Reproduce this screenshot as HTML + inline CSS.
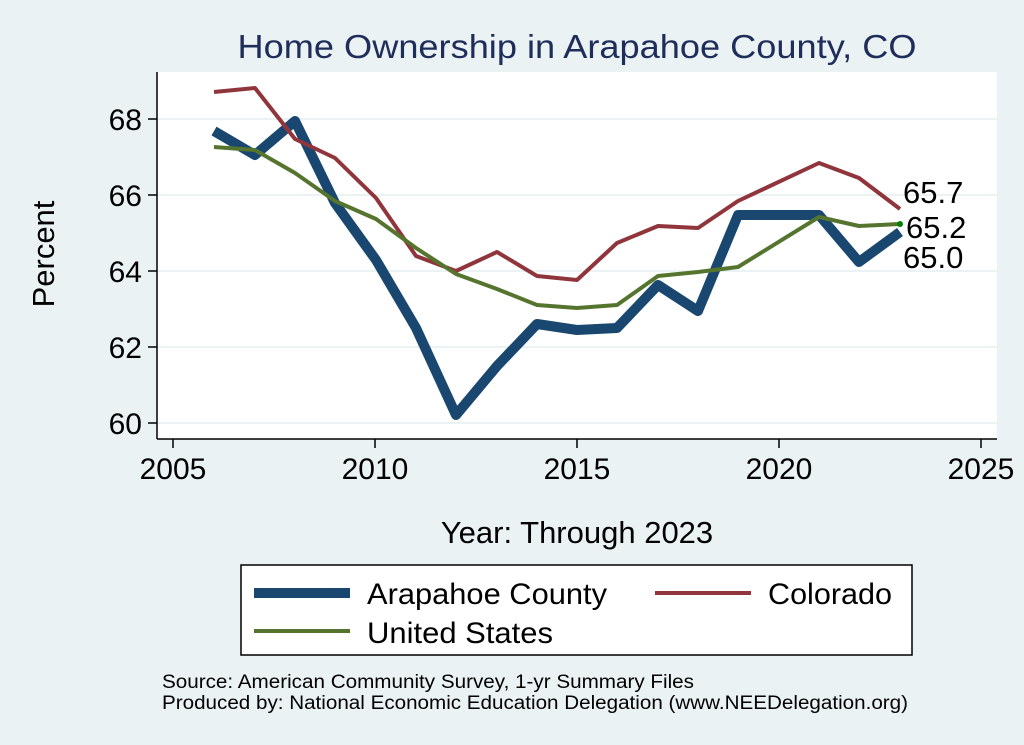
<!DOCTYPE html>
<html><head><meta charset="utf-8"><style>
body{margin:0;background:#eaf2f3;}
svg{display:block;font-family:"Liberation Sans",sans-serif;}
</style></head><body>
<svg width="1024" height="745" viewBox="0 0 1024 745" xmlns="http://www.w3.org/2000/svg">
<rect width="1024" height="745" fill="#eaf2f3"/>
<text x="577" y="58" text-anchor="middle" font-size="33" fill="#1e2d5a" textLength="679" lengthAdjust="spacingAndGlyphs">Home Ownership in Arapahoe County, CO</text>
<rect x="157" y="72" width="840" height="367" fill="#fff"/>
<g stroke="#eaf2f3" stroke-width="2">
<line x1="157" x2="997" y1="119" y2="119"/><line x1="157" x2="997" y1="195" y2="195"/>
<line x1="157" x2="997" y1="271" y2="271"/><line x1="157" x2="997" y1="347" y2="347"/>
<line x1="157" x2="997" y1="423" y2="423"/>
</g>
<g stroke="#000" stroke-width="1.5">
<line x1="157" x2="157" y1="72" y2="439"/><line x1="157" x2="997" y1="439" y2="439"/>
<line x1="148" x2="157" y1="119" y2="119"/><line x1="148" x2="157" y1="195" y2="195"/>
<line x1="148" x2="157" y1="271" y2="271"/><line x1="148" x2="157" y1="347" y2="347"/>
<line x1="148" x2="157" y1="423" y2="423"/>
<line x1="173" x2="173" y1="439" y2="448"/><line x1="375" x2="375" y1="439" y2="448"/>
<line x1="577" x2="577" y1="439" y2="448"/><line x1="779" x2="779" y1="439" y2="448"/>
<line x1="981" x2="981" y1="439" y2="448"/>
</g>
<g font-size="30" text-anchor="end">
<text x="142" y="130">68</text><text x="142" y="206">66</text><text x="142" y="282">64</text>
<text x="142" y="358">62</text><text x="142" y="434">60</text>
</g>
<g font-size="30" text-anchor="middle">
<text x="173" y="479">2005</text><text x="375" y="479">2010</text><text x="577" y="479">2015</text>
<text x="779" y="479">2020</text><text x="981" y="479">2025</text>
</g>
<text x="577" y="543" text-anchor="middle" font-size="31">Year: Through 2023</text>
<text transform="translate(54,254) rotate(-90)" text-anchor="middle" font-size="31">Percent</text>
<polyline fill="none" stroke="#1a476f" stroke-width="10" stroke-linejoin="round" points="214,131 255,155 295,121 335,203 376,260 416,328 456,415 497,366 537,324 577,330 617,328 658,285 698,311 738,215 819,215 859,262 900,232"/>
<polyline fill="none" stroke="#90353b" stroke-width="4" stroke-linejoin="round" points="214,92 255,88 295,139 335,158 376,198 416,256 456,271 497,252 537,276 577,280 617,243 658,226 698,228 738,201 819,163 859,178 900,209"/>
<polyline fill="none" stroke="#55752f" stroke-width="4" stroke-linejoin="round" points="214,147 255,150 295,173 335,201 376,219 416,248 456,274 497,289 537,305 577,308 617,305 658,276 698,272 738,267 819,217 859,226 900,224"/>
<circle cx="900" cy="224" r="3" fill="#008000"/>
<g font-size="31">
<text x="903" y="203">65.7</text><text x="906" y="238">65.2</text><text x="903" y="268">65.0</text>
</g>
<rect x="241" y="565" width="671" height="90" fill="#fff" stroke="#000" stroke-width="1.5"/>
<line x1="254" x2="350" y1="593" y2="593" stroke="#1a476f" stroke-width="10"/>
<text x="367" y="604" font-size="30" textLength="240" lengthAdjust="spacingAndGlyphs">Arapahoe County</text>
<line x1="655" x2="751" y1="593" y2="593" stroke="#90353b" stroke-width="4"/>
<text x="768" y="604" font-size="30" textLength="124" lengthAdjust="spacingAndGlyphs">Colorado</text>
<line x1="254" x2="350" y1="631" y2="631" stroke="#55752f" stroke-width="4"/>
<text x="367" y="643" font-size="30" textLength="186" lengthAdjust="spacingAndGlyphs">United States</text>
<text x="162" y="688" font-size="19" textLength="532" lengthAdjust="spacingAndGlyphs">Source: American Community Survey, 1-yr Summary Files</text>
<text x="162" y="709" font-size="19" textLength="746" lengthAdjust="spacingAndGlyphs">Produced by: National Economic Education Delegation (www.NEEDelegation.org)</text>
</svg>
</body></html>
